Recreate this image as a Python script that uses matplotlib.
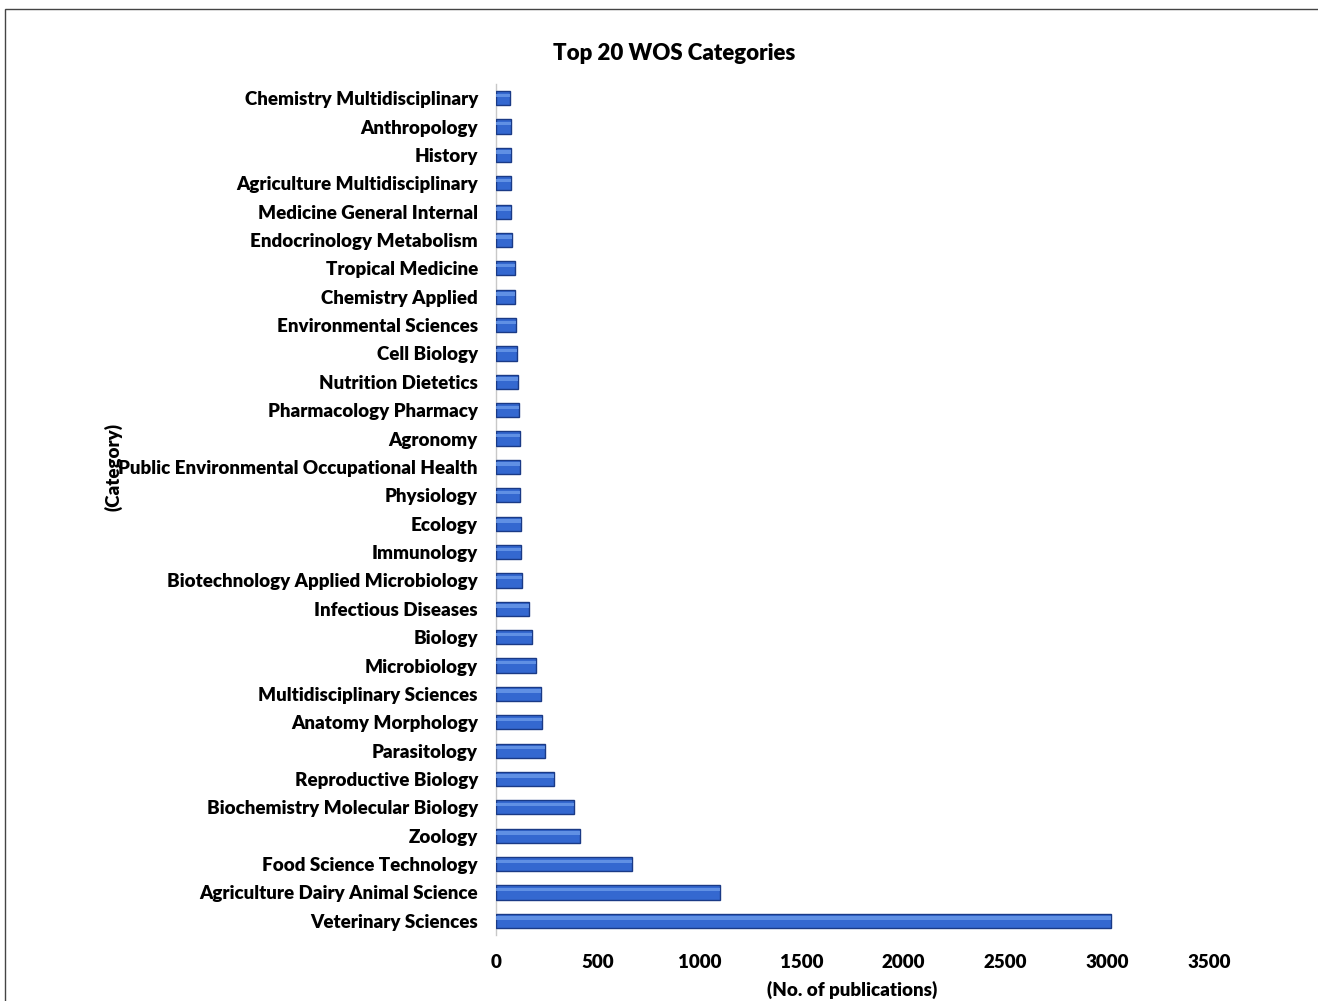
import matplotlib
matplotlib.use("Agg")
import matplotlib.pyplot as plt
from matplotlib.patches import Rectangle

plt.rcParams["font.family"] = ["Lato", "DejaVu Sans"]
plt.rcParams["font.weight"] = "bold"

categories = [
    "Veterinary Sciences",
    "Agriculture Dairy Animal Science",
    "Food Science Technology",
    "Zoology",
    "Biochemistry Molecular Biology",
    "Reproductive Biology",
    "Parasitology",
    "Anatomy Morphology",
    "Multidisciplinary Sciences",
    "Microbiology",
    "Biology",
    "Infectious Diseases",
    "Biotechnology Applied Microbiology",
    "Immunology",
    "Ecology",
    "Physiology",
    "Public Environmental Occupational Health",
    "Agronomy",
    "Pharmacology Pharmacy",
    "Nutrition Dietetics",
    "Cell Biology",
    "Environmental Sciences",
    "Chemistry Applied",
    "Tropical Medicine",
    "Endocrinology Metabolism",
    "Medicine General Internal",
    "Agriculture Multidisciplinary",
    "History",
    "Anthropology",
    "Chemistry Multidisciplinary",
]
publications = [
    3018, 1098, 669, 413, 384, 286, 242, 228, 221, 198,
    178, 164, 130, 121, 121, 120, 120, 116, 111, 110,
    105, 100, 95, 91, 78, 74, 74, 74, 73, 69,
]
x_ticks = [0, 500, 1000, 1500, 2000, 2500, 3000, 3500]

W, H = 1318, 1001
FS = 13.5
WT = 800
fig = plt.figure(figsize=(W / 100, H / 100), dpi=100)

# outer frame (runs off the right and bottom edges)
fig.patches.append(Rectangle((5 / W, -0.05), 1.2, 1 - 9 / H + 0.05,
                             transform=fig.transFigure, fill=False,
                             edgecolor="#444444", linewidth=1.0))

ax = fig.add_axes([496 / W, 1 - 935 / H, (1209 - 496) / W, (935 - 84) / H])
ypos = list(range(len(categories)))

ax.barh(ypos, publications, height=0.5, color="#3468D0",
        edgecolor="#1A3A86", linewidth=1.0, zorder=3)
# lighter band along the top of each bar
ax.barh([y + 0.1 for y in ypos], publications, height=0.12,
        color="#6C9BEA", linewidth=0, zorder=4, alpha=0.8)

ax.set_xlim(0, 3500)
ax.set_ylim(-0.5, len(categories) - 0.5)
ax.set_xticks(x_ticks)
ax.set_xticklabels([str(t) for t in x_ticks], fontsize=FS, fontweight=WT)
ax.set_yticks(ypos)
ax.set_yticklabels(categories, fontsize=FS, fontweight=WT)
ax.tick_params(axis="both", length=0)
ax.tick_params(axis="y", pad=13)
ax.tick_params(axis="x", pad=14)

for side in ("top", "right", "bottom"):
    ax.spines[side].set_visible(False)
ax.spines["left"].set_color("#C8C8C8")
ax.spines["left"].set_linewidth(1.0)

fig.text(674 / W, 1 - 54 / H, "Top 20 WOS Categories", ha="center",
         va="center", fontsize=16, fontweight=WT)
fig.text(852 / W, 1 - 990 / H, "(No. of publications)", ha="center",
         va="center", fontsize=FS, fontweight=WT)
fig.text(113 / W, 1 - 467 / H, "(Category)", ha="center", va="center",
         rotation=90, fontsize=FS, fontweight=WT)

fig.savefig("out.png", dpi=100, facecolor="white")
